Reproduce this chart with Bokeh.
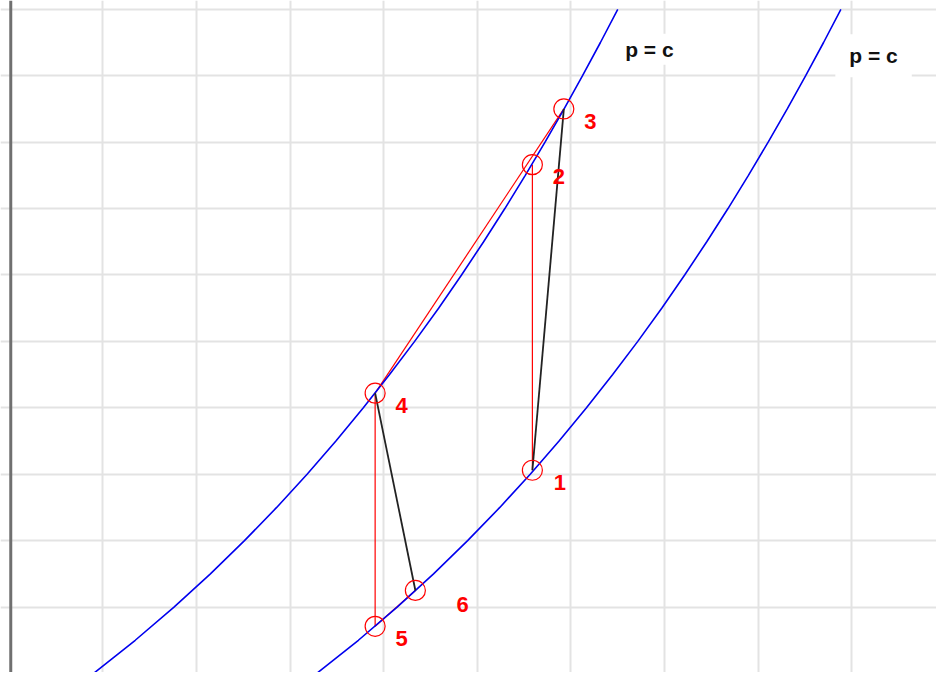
from bokeh.plotting import figure
from bokeh.models import Span, Label, FixedTicker, Grid, Range1d, ColumnDataSource
from bokeh.core.properties import value
from bokeh.embed import file_html
from bokeh.resources import INLINE

# ---- data (grid units: entropy s horizontally, temperature T vertically) ----
curve_T = [0, 0.5, 1, 1.5, 2, 2.5, 3, 3.5, 4, 4.5, 5, 5.5, 6, 6.5, 7, 7.5, 8, 8.5, 9, 9.5, 10]
upper_isobar_s = [0.899, 1.345, 1.759, 2.148, 2.512, 2.856, 3.181, 3.489, 3.782, 4.062,
                  4.330, 4.586, 4.831, 5.067, 5.294, 5.512, 5.723, 5.927, 6.124, 6.315, 6.500]
lower_isobar_s = [3.283, 3.729, 4.143, 4.532, 4.896, 5.240, 5.565, 5.873, 6.166, 6.446,
                  6.714, 6.970, 7.215, 7.451, 7.678, 7.896, 8.107, 8.311, 8.508, 8.699, 8.884]

pt_names = ["1", "2", "3", "4", "5", "6"]
pt_s = [5.588, 5.588, 5.924, 3.908, 3.908, 4.338]
pt_T = [3.06, 7.66, 8.50, 4.22, 0.71, 1.25]

red_paths = [("1", "2"), ("4", "3"), ("4", "5"), ("5", "6")]
black_paths = [("1", "3"), ("4", "6")]

isobar_label = "p = c"
isobar_label_s = [6.838, 9.233]
isobar_label_T = [9.40, 9.30]

grid_s = [1, 2, 3, 4, 5, 6, 7, 8, 9]
grid_T = [1, 2, 3, 4, 5, 6, 7, 8, 9, 10]

# ---- layout / style ----
W, H = 936, 672
# view measured on a 952 x 688 canvas: s = 0 at 9 px, 95.2 px per unit;
# T = 0 at 689 px, 68 px per unit; the figure is scaled to fit the window.
REF_PX_S, REF_PX_T = 95.2, 68.0
x_rng = Range1d(-9 / REF_PX_S, (952 - 9) / REF_PX_S)
y_rng = Range1d((689 - 688) / REF_PX_T, 689 / REF_PX_T)

p = figure(width=W, height=H, x_range=x_rng, y_range=y_rng,
           output_backend="svg", toolbar_location=None,
           x_axis_location=None, y_axis_location=None,
           min_border=0, outline_line_color=None,
           background_fill_color="white", border_fill_color="white")
for g in p.grid:
    g.visible = False

gx = Grid(dimension=0, ticker=FixedTicker(ticks=grid_s),
          grid_line_color="#e3e3e3", grid_line_width=2)
gy = Grid(dimension=1, ticker=FixedTicker(ticks=grid_T),
          grid_line_color="#e3e3e3", grid_line_width=2)
p.add_layout(gx)
p.add_layout(gy)

p.add_layout(Span(location=0.015, dimension="height", line_color="#707070", line_width=3))

idx = {n: i for i, n in enumerate(pt_names)}

def segs(paths):
    xs = [[pt_s[idx[a]], pt_s[idx[b]]] for a, b in paths]
    ys = [[pt_T[idx[a]], pt_T[idx[b]]] for a, b in paths]
    return xs, ys

rx, ry = segs(red_paths)
p.multi_line(rx, ry, line_color="#ff0000", line_width=1.2)

p.line(upper_isobar_s, curve_T, line_color="#0000ee", line_width=1.6)
p.line(lower_isobar_s, curve_T, line_color="#0000ee", line_width=1.6)

bx, by = segs(black_paths)
p.multi_line(bx, by, line_color="#222222", line_width=1.8)

p.scatter(pt_s, pt_T, marker="circle", size=20, fill_color=None,
          line_color="#ff0000", line_width=1.2)

# point labels: offsets in reference pixels (right, down)
label_off = {"1": (28, 13), "2": (27, 12), "3": (27, 13),
             "4": (27, 13), "5": (27, 12), "6": (48, 14)}
lab_x = [pt_s[i] + label_off[n][0] / REF_PX_S for i, n in enumerate(pt_names)]
lab_y = [pt_T[i] - label_off[n][1] / REF_PX_T for i, n in enumerate(pt_names)]
src = ColumnDataSource(dict(x=lab_x, y=lab_y, t=pt_names))
p.text(x="x", y="y", text="t", source=src, text_color="#ff0000",
       text_font=value("Liberation Sans"), text_font_style="bold",
       text_font_size="22px", text_align="center", text_baseline="middle")

pads = [4, (14, 10)]
for sx, ty, pad in zip(isobar_label_s, isobar_label_T, pads):
    p.add_layout(Label(x=sx, y=ty, text=isobar_label, text_color="#111111",
                       text_font="Liberation Sans", text_font_style="bold",
                       text_font_size="21px", text_align="center",
                       text_baseline="middle", background_fill_color="white",
                       padding=pad))

open("out.html", "w").write(file_html(p, INLINE))
